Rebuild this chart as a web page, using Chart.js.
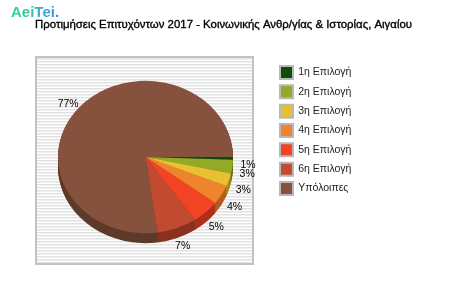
<!DOCTYPE html>
<html lang="el">
<head>
  <meta charset="utf-8">
  <title>Προτιμήσεις Επιτυχόντων 2017</title>
  <style>
    body { margin: 0; background: #fff; }
  </style>
</head>

<body>
  <canvas id="myChart" width="450" height="300"></canvas>

  <script src="https://cdn.jsdelivr.net/npm/chart.js@4"></script>
  <script>
    var chartTitle = 'Προτιμήσεις Επιτυχόντων 2017 - Κοινωνικής Ανθρ/γίας & Ιστορίας, Αιγαίου';
    var categories = ['1η Επιλογή', '2η Επιλογή', '3η Επιλογή', '4η Επιλογή', '5η Επιλογή', '6η Επιλογή', 'Υπόλοιπες'];
    var shares = [0.6, 2.9, 2.7, 4.1, 5.1, 7.4, 77.2];
    var colors = ['#0b4d0b', '#94aa26', '#e8c032', '#f0842c', '#f24424', '#c24a30', '#87523d'];
    var sideColors = ['#063006', '#66761a', '#a88a22', '#b05e1e', '#b02e18', '#8a3220', '#5e3a2b'];

    var font = "'Liberation Sans', Arial, sans-serif";
    var legendSize = 10.5;
    var tilt = 0.87;   // squash of the pie
    var depth = 10;    // thickness of the 3d edge

    // legend width, so that the pie and the legend land where they should
    var m = document.createElement('canvas').getContext('2d');
    m.font = legendSize + 'px ' + font;
    var textW = Math.max.apply(null, categories.map(function(c) { return m.measureText(c).width; }));
    var legendPad = 6.33;
    var legendW = legendPad + 13 + legendSize / 2 + textW + 10;
    var areaRight = 273.67;
    var areaLeft = 2 * 145.5 - areaRight;

    // background box, logo and title
    var decor = {
      id: 'decor',
      beforeDraw: function(chart) {
        var ctx = chart.ctx;
        ctx.save();
        ctx.fillStyle = '#fff';
        ctx.fillRect(0, 0, chart.width, chart.height);
        for (var y = 58; y < 263; y++) {
          var r = (y - 58) % 3;
          ctx.fillStyle = r === 0 ? '#e2e2e2' : (r === 1 ? '#efefef' : '#ffffff');
          ctx.fillRect(37, y, 215, 1);
        }
        ctx.strokeStyle = '#c2c2c2';
        ctx.lineWidth = 2;
        ctx.strokeRect(36, 57, 217, 207);

        var g = ctx.createLinearGradient(11, 0, 63, 0);
        g.addColorStop(0, '#2fd68a');
        g.addColorStop(0.45, '#35c0a8');
        g.addColorStop(0.55, '#3ca8dc');
        g.addColorStop(1, '#3a90e0');
        ctx.fillStyle = g;
        ctx.font = 'bold 15px ' + font;
        ctx.textBaseline = 'alphabetic';
        ctx.fillText('AeiTei.', 11, 16.5);

        ctx.fillStyle = '#000';
        ctx.strokeStyle = '#000';
        ctx.lineWidth = 0.35;
        ctx.font = '11.4px ' + font;
        ctx.textAlign = 'center';
        ctx.fillText(chartTitle, 223.5, 28);
        ctx.strokeText(chartTitle, 223.5, 28);
        ctx.restore();
      }
    };

    // 3d edge under the pie and the percent labels
    var pie3d = {
      id: 'pie3d',
      beforeDatasetsDraw: function(chart) {
        var ctx = chart.ctx;
        var arcs = chart.getDatasetMeta(0).data;
        var cx = arcs[0].x, cy = arcs[0].y;
        ctx.save();
        ctx.translate(cx, cy);
        ctx.scale(1, tilt);
        ctx.translate(-cx, -cy);
        for (var d = depth; d >= 1; d--) {
          arcs.forEach(function(arc, i) {
            ctx.beginPath();
            ctx.moveTo(cx, cy + d / tilt);
            ctx.arc(cx, cy + d / tilt, arc.outerRadius, arc.startAngle, arc.endAngle);
            ctx.closePath();
            ctx.fillStyle = sideColors[i];
            ctx.fill();
          });
        }
      },
      afterDatasetsDraw: function(chart) {
        var ctx = chart.ctx;
        ctx.restore();
        var arcs = chart.getDatasetMeta(0).data;
        ctx.save();
        ctx.fillStyle = '#000';
        ctx.font = '10.5px ' + font;
        ctx.textAlign = 'center';
        ctx.textBaseline = 'middle';
        arcs.forEach(function(arc, i) {
          var mid = (arc.startAngle + arc.endAngle) / 2;
          var R = arc.outerRadius + 15;
          var x = arc.x + R * Math.cos(mid);
          var y = arc.y + tilt * R * Math.sin(mid) + 6;
          ctx.fillText(Math.round(shares[i]) + '%', x, y);
        });
        ctx.restore();
      }
    };

    var ctx = document.getElementById('myChart').getContext('2d');
    var chart = new Chart(ctx, {
      type: 'pie',
      data: {
        labels: categories,
        datasets: [{
          data: shares,
          backgroundColor: colors,
          borderWidth: 0,
          radius: 87.5
        }]
      },
      options: {
        responsive: false,
        animation: false,
        rotation: 90,
        layout: {
          padding: { left: areaLeft, right: 450 - areaRight - legendW, top: 59.7, bottom: 300 - (2 * 157 - 59.7) }
        },
        plugins: {
          legend: {
            position: 'right',
            align: 'start',
            labels: {
              boxWidth: 13,
              boxHeight: 13,
              padding: legendPad,
              color: '#222',
              font: { family: font, size: legendSize },
              generateLabels: function(c) {
                var items = Chart.overrides.pie.plugins.legend.labels.generateLabels(c);
                return items.map(function(it) {
                  it.strokeStyle = '#b8b8b8';
                  it.lineWidth = 2;
                  return it;
                });
              }
            }
          },
          tooltip: { enabled: false }
        }
      },
      plugins: [decor, pie3d]
    });
  </script>
</body>
</html>
